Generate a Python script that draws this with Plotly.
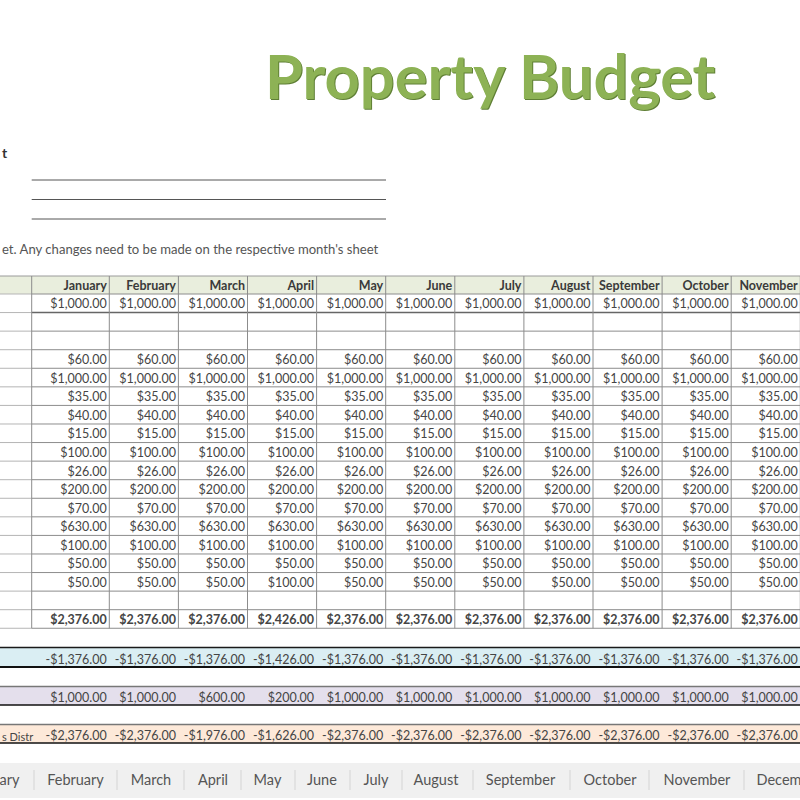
import plotly.graph_objects as go

months = ['January', 'February', 'March', 'April', 'May', 'June', 'July',
          'August', 'September', 'October', 'November']
income = [1000] * 11
expense_rows = [
    [60] * 11,
    [1000] * 11,
    [35] * 11,
    [40] * 11,
    [15] * 11,
    [100] * 11,
    [26] * 11,
    [200] * 11,
    [70] * 11,
    [630] * 11,
    [100] * 11,
    [50] * 11,
    [50, 50, 50, 100, 50, 50, 50, 50, 50, 50, 50],
]
total_expenses = [2376, 2376, 2376, 2426, 2376, 2376, 2376, 2376, 2376, 2376, 2376]
net_income = [-1376, -1376, -1376, -1426, -1376, -1376, -1376, -1376, -1376, -1376, -1376]
distributions = [1000, 1000, 600, 200, 1000, 1000, 1000, 1000, 1000, 1000, 1000]
cash_distr = [-2376, -2376, -1976, -1626, -2376, -2376, -2376, -2376, -2376, -2376, -2376]

# the first and last tab are cut by the window in the screenshot
tab_labels = ['ary', 'February', 'March', 'April', 'May', 'June', 'July',
              'August', 'September', 'October', 'November', 'Decem']

FONT = 'Lato, sans-serif'
TEXT = '#454545'
GRID = '#8c8c8c'

# layout of the sheet, in screen pixels
col_edges = [31.7 + (77.6 if i > 0 else 0) + 69.1 * max(i - 1, 0) for i in range(13)]
row_top, row_h = 294.0, 18.57
row_y = lambda i: row_top + row_h * (i + 0.5)
tab_x = [9.5, 75.5, 151, 213, 267.5, 322, 376, 436, 520.5, 610, 697, 779]
tab_seps = [34, 117, 184, 241, 295, 350, 402, 473, 570, 649, 744]


def money(v):
    return f'-${abs(v):,.2f}' if v < 0 else f'${v:,.2f}'


fig = go.Figure()


def add_row(values, y, bold=False, size=12.5):
    texts = [money(v) for v in values]
    if bold:
        texts = [f'<b>{t}</b>' for t in texts]
    fig.add_trace(go.Scatter(
        x=[col_edges[i + 1] - 2.5 for i in range(len(values))],
        y=[y + 2] * len(values),
        mode='text',
        text=texts,
        textposition='middle left',
        textfont=dict(family=FONT, size=size, color=TEXT),
        hoverinfo='skip',
        showlegend=False
    ))


def hline(y, x0=0, x1=800, color=GRID, width=1):
    fig.add_shape(type='line', x0=x0, x1=x1, y0=y, y1=y, line=dict(color=color, width=width))


def vline(x, y0, y1, color=GRID, width=1):
    fig.add_shape(type='line', x0=x, x1=x, y0=y0, y1=y1, line=dict(color=color, width=width))


def band(y0, y1, fill, top_color, top_width, bottom_width):
    fig.add_shape(type='rect', x0=0, x1=800, y0=y0, y1=y1, fillcolor=fill, line_width=0, layer='below')
    hline(y0, color=top_color, width=top_width)
    hline(y1, color='#111111', width=bottom_width)


# header, tab strip and coloured summary bands
fig.add_shape(type='rect', x0=0, x1=800, y0=276, y1=294, fillcolor='#E9EEDD', line_width=0, layer='below')
fig.add_shape(type='rect', x0=0, x1=800, y0=763, y1=798, fillcolor='#F0F0F0', line_width=0, layer='below')
band(647.5, 667, '#DAEEF3', '#1a1a1a', 1.5, 2)
band(686.5, 705, '#E4DFEC', '#777777', 1.5, 1.5)
band(724.5, 743, '#FDE9D9', '#777777', 1.5, 1.5)

# grid of the table, the label column is paler
hline(276, color='#9a9a9a')
for i in range(19):
    y = row_top + row_h * i
    hline(y, x1=31.7, color='#b5b5b5')
    if i == 1:
        hline(y, x0=31.7, color='#666666', width=1.5)
    else:
        hline(y, x0=31.7)
for x in col_edges[:-1]:
    vline(x, 276, 628.3)

# signature lines
for y in [180, 199.5, 219]:
    hline(y, x0=31.7, x1=386, color='#555555')

for x in tab_seps:
    vline(x, 770, 790, color='#d4d4d4')

# cell values
fig.add_trace(go.Scatter(
    x=[col_edges[i + 1] - 2.5 for i in range(len(months))],
    y=[287] * len(months),
    mode='text',
    text=[f'<b>{m}</b>' for m in months],
    textposition='middle left',
    textfont=dict(family=FONT, size=12.5, color='#3a3a3a'),
    hoverinfo='skip',
    showlegend=False
))
add_row(income, row_y(0))
for i, row in enumerate(expense_rows):
    add_row(row, row_y(i + 3))
add_row(total_expenses, row_y(17), bold=True)
add_row(net_income, 659)
add_row(distributions, 697)
add_row(cash_distr, 735)

fig.add_trace(go.Scatter(
    x=tab_x,
    y=[781] * len(tab_x),
    mode='text',
    text=tab_labels,
    textposition='middle center',
    textfont=dict(family=FONT, size=14.5, color='#555555'),
    hoverinfo='skip',
    showlegend=False
))

# title with a darker copy behind it for the bevel
fig.add_annotation(x=491.5, y=76, text='<b>Property Budget</b>', showarrow=False,
                   font=dict(family=FONT, size=61.4, color='#5F7F35'))
fig.add_annotation(x=490.5, y=75, text='<b>Property Budget</b>', showarrow=False,
                   font=dict(family=FONT, size=61.4, color='#8DB255'))

fig.add_annotation(x=0, y=152, text='<b>t</b>', showarrow=False, xanchor='left',
                   font=dict(family=FONT, size=14, color='#333333'))
fig.add_annotation(x=0, y=249, text="et. Any changes need to be made on the respective month's sheet",
                   showarrow=False, xanchor='left', font=dict(family=FONT, size=13.1, color='#555555'))
fig.add_annotation(x=0, y=736, text='s Distr', showarrow=False, xanchor='left',
                   font=dict(family=FONT, size=11, color=TEXT))

fig.update_layout(
    width=800,
    height=800,
    margin=dict(t=0, b=0, l=0, r=0),
    plot_bgcolor='white',
    paper_bgcolor='white',
    showlegend=False,
    xaxis=dict(range=[0, 800], visible=False, fixedrange=True),
    yaxis=dict(range=[800, 0], visible=False, fixedrange=True)
)
fig.write_html("out.html", post_script="document.body.style.margin='0';",
               config={'displayModeBar': False})
